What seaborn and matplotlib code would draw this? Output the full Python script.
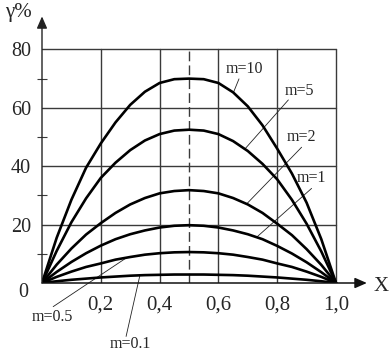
import numpy as np
import pandas as pd
import matplotlib
matplotlib.use("Agg")
import matplotlib.pyplot as plt
import seaborn as sns

# ---- data ----
x_vals = [0.0, 0.05, 0.10, 0.15, 0.20, 0.25, 0.30, 0.35, 0.40, 0.45, 0.50,
          0.55, 0.60, 0.65, 0.70, 0.75, 0.80, 0.85, 0.90, 0.95, 1.0]
m_labels = ["m=10", "m=5", "m=2", "m=1", "m=0.5", "m=0.1"]
gamma_m10 = [0, 15.5, 28.5, 39.5, 47.8, 55.0, 61.0, 65.5, 68.5, 69.8, 70.0,
             69.8, 68.5, 65.3, 60.5, 54.0, 46.0, 37.5, 27.5, 15.0, 0]
gamma_m5 = [0, 11.0, 20.8, 29.0, 36.0, 41.2, 45.5, 48.8, 51.0, 52.2, 52.5,
            52.2, 51.0, 48.6, 45.2, 40.8, 35.5, 28.5, 20.3, 10.8, 0]
gamma_m2 = [0, 6.3, 11.8, 16.6, 20.5, 24.0, 26.9, 29.1, 30.7, 31.5, 31.8,
            31.5, 30.7, 29.1, 26.9, 24.0, 20.3, 16.4, 11.6, 6.2, 0]
gamma_m1 = [0, 3.8, 7.2, 10.2, 12.8, 15.0, 16.7, 18.0, 19.0, 19.6, 19.8,
            19.6, 19.0, 18.0, 16.7, 15.0, 12.7, 10.1, 7.1, 3.7, 0]
gamma_m05 = [0, 2.1, 3.9, 5.5, 6.7, 8.0, 8.9, 9.7, 10.2, 10.5, 10.6,
             10.5, 10.2, 9.7, 8.9, 8.0, 6.7, 5.5, 3.9, 2.1, 0]
gamma_m01 = [0, 0.6, 1.1, 1.5, 1.9, 2.2, 2.5, 2.7, 2.8, 2.9, 2.9,
             2.9, 2.8, 2.7, 2.5, 2.2, 1.9, 1.5, 1.1, 0.6, 0]
series = [gamma_m10, gamma_m5, gamma_m2, gamma_m1, gamma_m05, gamma_m01]

x_ticks = [0.2, 0.4, 0.6, 0.8, 1.0]
x_ticklabels = ["0,2", "0,4", "0,6", "0,8", "1,0"]
y_ticks = [20, 40, 60, 80]
y_ticklabels = ["20", "40", "60", "80"]

# label text positions (data coords), leader start, and x where leader meets curve
label_pos = [(0.687, 73.3), (0.874, 65.8), (0.884, 50.0), (0.918, 36.0), (0.034, -11.6), (0.299, -20.9)]
leader_start = [(0.670, 69.9), (0.838, 62.7), (0.883, 46.5), (0.917, 32.4), (0.038, -8.1), (0.286, -18.3)]
leader_end_x = [0.651, 0.690, 0.696, 0.730, 0.288, 0.333]

rows = []
for lab, vals in zip(m_labels, series):
    for xv, gv in zip(x_vals, vals):
        rows.append({"x": xv, "gamma": gv, "m": lab})
df = pd.DataFrame(rows)

sns.set_style("white")
plt.rcParams["font.family"] = ["Liberation Serif", "DejaVu Serif"]

W, H = 391, 352
fig = plt.figure(figsize=(W / 100, H / 100), dpi=100)
x_max, y_max = 1.105, 91.3
ax = fig.add_axes([42 / W, 69 / H, 294 * x_max / W, 2.92 * y_max / H])
ax.set_xlim(0, x_max)
ax.set_ylim(0, y_max)
for s in ax.spines.values():
    s.set_visible(False)

grid_c = "#3a3a3a"
# grid
for xv in x_ticks:
    ax.plot([xv, xv], [0, 80], color=grid_c, lw=1.0, zorder=1)
for yv in y_ticks:
    ax.plot([0, 1.0], [yv, yv], color=grid_c, lw=1.0, zorder=1)
ax.plot([0.5, 0.5], [0, 80], color=grid_c, lw=1.0, dashes=(7, 3), zorder=1)

# curves
sns.lineplot(data=df, x="x", y="gamma", hue="m", palette=["black"] * 6,
             linewidth=1.9, legend=False, ax=ax, zorder=3, sort=False)
ax.set_xlabel("")
ax.set_ylabel("")

# axes with arrows
ax.annotate("", xy=(x_max, 0), xytext=(0, 0), xycoords="data",
            arrowprops=dict(arrowstyle="-|>,head_length=0.55,head_width=0.24",
                            mutation_scale=13, color="#111111", lw=1.1,
                            shrinkA=0, shrinkB=0), annotation_clip=False)
ax.annotate("", xy=(0, y_max), xytext=(0, 0), xycoords="data",
            arrowprops=dict(arrowstyle="-|>,head_length=0.55,head_width=0.24",
                            mutation_scale=13, color="#222222", lw=1.0,
                            shrinkA=0, shrinkB=0), annotation_clip=False)

# ticks
ax.set_yticks(y_ticks)
ax.set_yticklabels(y_ticklabels, fontsize=14.5)
ax.set_yticks([10, 30, 50, 70], minor=True)
ax.tick_params(axis="y", which="major", direction="out", length=5, width=1.0,
               color=grid_c, pad=3)
ax.tick_params(axis="y", which="minor", direction="inout", length=6.5, width=0.8,
               color=grid_c, left=True)
ax.set_xticks(x_ticks)
ax.set_xticklabels(x_ticklabels, fontsize=15)
ax.tick_params(axis="x", which="major", length=0, pad=9)
ax.text(-0.065, -3.3, "0", fontsize=14.5, ha="center", va="center")

ax.text(1.153, -1.2, "X", fontsize=15, ha="center", va="center", clip_on=False)
fig.text(18 / W, 1 - 13 / H, "γ%", fontsize=15, ha="center", va="center")

# curve labels with leader lines
for lab, vals, (tx, ty), (sx, sy), ex in zip(m_labels, series, label_pos, leader_start, leader_end_x):
    ey = np.interp(ex, x_vals, vals)
    ax.plot([sx, ex], [sy, ey], color="#222222", lw=0.6, clip_on=False, zorder=2)
    ax.text(tx, ty, lab, fontsize=11.5, ha="center", va="center", clip_on=False)

fig.savefig("out.png", dpi=100)
